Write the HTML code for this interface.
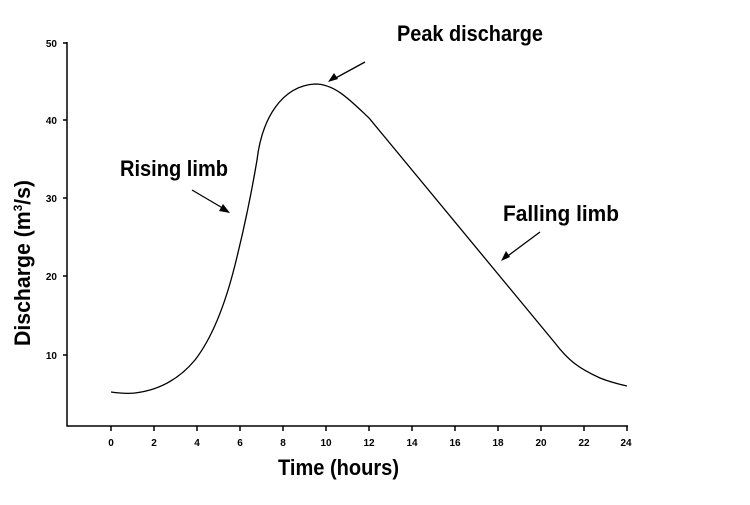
<!DOCTYPE html>
<html><head><meta charset="utf-8"><style>html,body{margin:0;padding:0;background:#fff}</style></head>
<body>
<svg width="750" height="500" viewBox="0 0 750 500" xmlns="http://www.w3.org/2000/svg" font-family="Liberation Sans, Arial, sans-serif" font-weight="bold">
<rect width="750" height="500" fill="#fff"/>
<g stroke="#000" stroke-width="1.5" fill="none">
<path d="M67 42 V426 H628"/>
<path d="M63 43H67 M63 120H67 M63 198H67 M63 276H67 M63 355H67"/>
<path d="M111 426v5 M154 426v5 M197 426v5 M240 426v5 M283 426v5 M326 426v5 M369 426v5 M412 426v5 M455 426v5 M498 426v5 M541 426v5 M584 426v5 M627 426v5"/>
</g>
<g font-size="10" text-anchor="end">
<text x="57" y="47">50</text><text x="57" y="124">40</text><text x="57" y="202">30</text><text x="57" y="280">20</text><text x="57" y="359">10</text>
</g>
<g font-size="10" text-anchor="middle">
<text x="111" y="446">0</text><text x="154" y="446">2</text><text x="197" y="446">4</text><text x="240" y="446">6</text><text x="283" y="446">8</text><text x="326" y="446">10</text><text x="369" y="446">12</text><text x="412" y="446">14</text><text x="455" y="446">16</text><text x="498" y="446">18</text><text x="541" y="446">20</text><text x="584" y="446">22</text><text x="626" y="446">24</text>
</g>
<text x="278" y="475" font-size="22" textLength="121" lengthAdjust="spacingAndGlyphs">Time (hours)</text>
<text transform="translate(30,346) rotate(-90)" font-size="22" textLength="166" lengthAdjust="spacingAndGlyphs">Discharge (m<tspan font-size="12" dy="-8">3</tspan><tspan dy="8">/s)</tspan></text>
<path d="M111 392 C118 393 126 394 135 393 C160 390 180 378 195 360 C212 338 225 305 235 265 C245 225 252 190 257 160 C262 118 282 86 315 84 C335 84 350 100 369 118 L555 343 C568 360 578 368 600 378 C610 382 618 384 627 386" stroke="#000" stroke-width="1.3" fill="none"/>
<g font-size="22">
<text x="120" y="176" textLength="108" lengthAdjust="spacingAndGlyphs">Rising limb</text>
<text x="397" y="41" textLength="146" lengthAdjust="spacingAndGlyphs">Peak discharge</text>
<text x="503" y="221" textLength="116" lengthAdjust="spacingAndGlyphs">Falling limb</text>
</g>
<g stroke="#000" stroke-width="1.3">
<line x1="192" y1="190" x2="226" y2="210"/>
<line x1="365" y1="62" x2="332" y2="80"/>
<line x1="540" y1="232" x2="505" y2="258"/>
</g>
<g fill="#000">
<polygon points="230,213 219,211 223,204"/>
<polygon points="328,82 334,73 338,79"/>
<polygon points="501,261 506,251 510,257"/>
</g>
</svg>
</body></html>
